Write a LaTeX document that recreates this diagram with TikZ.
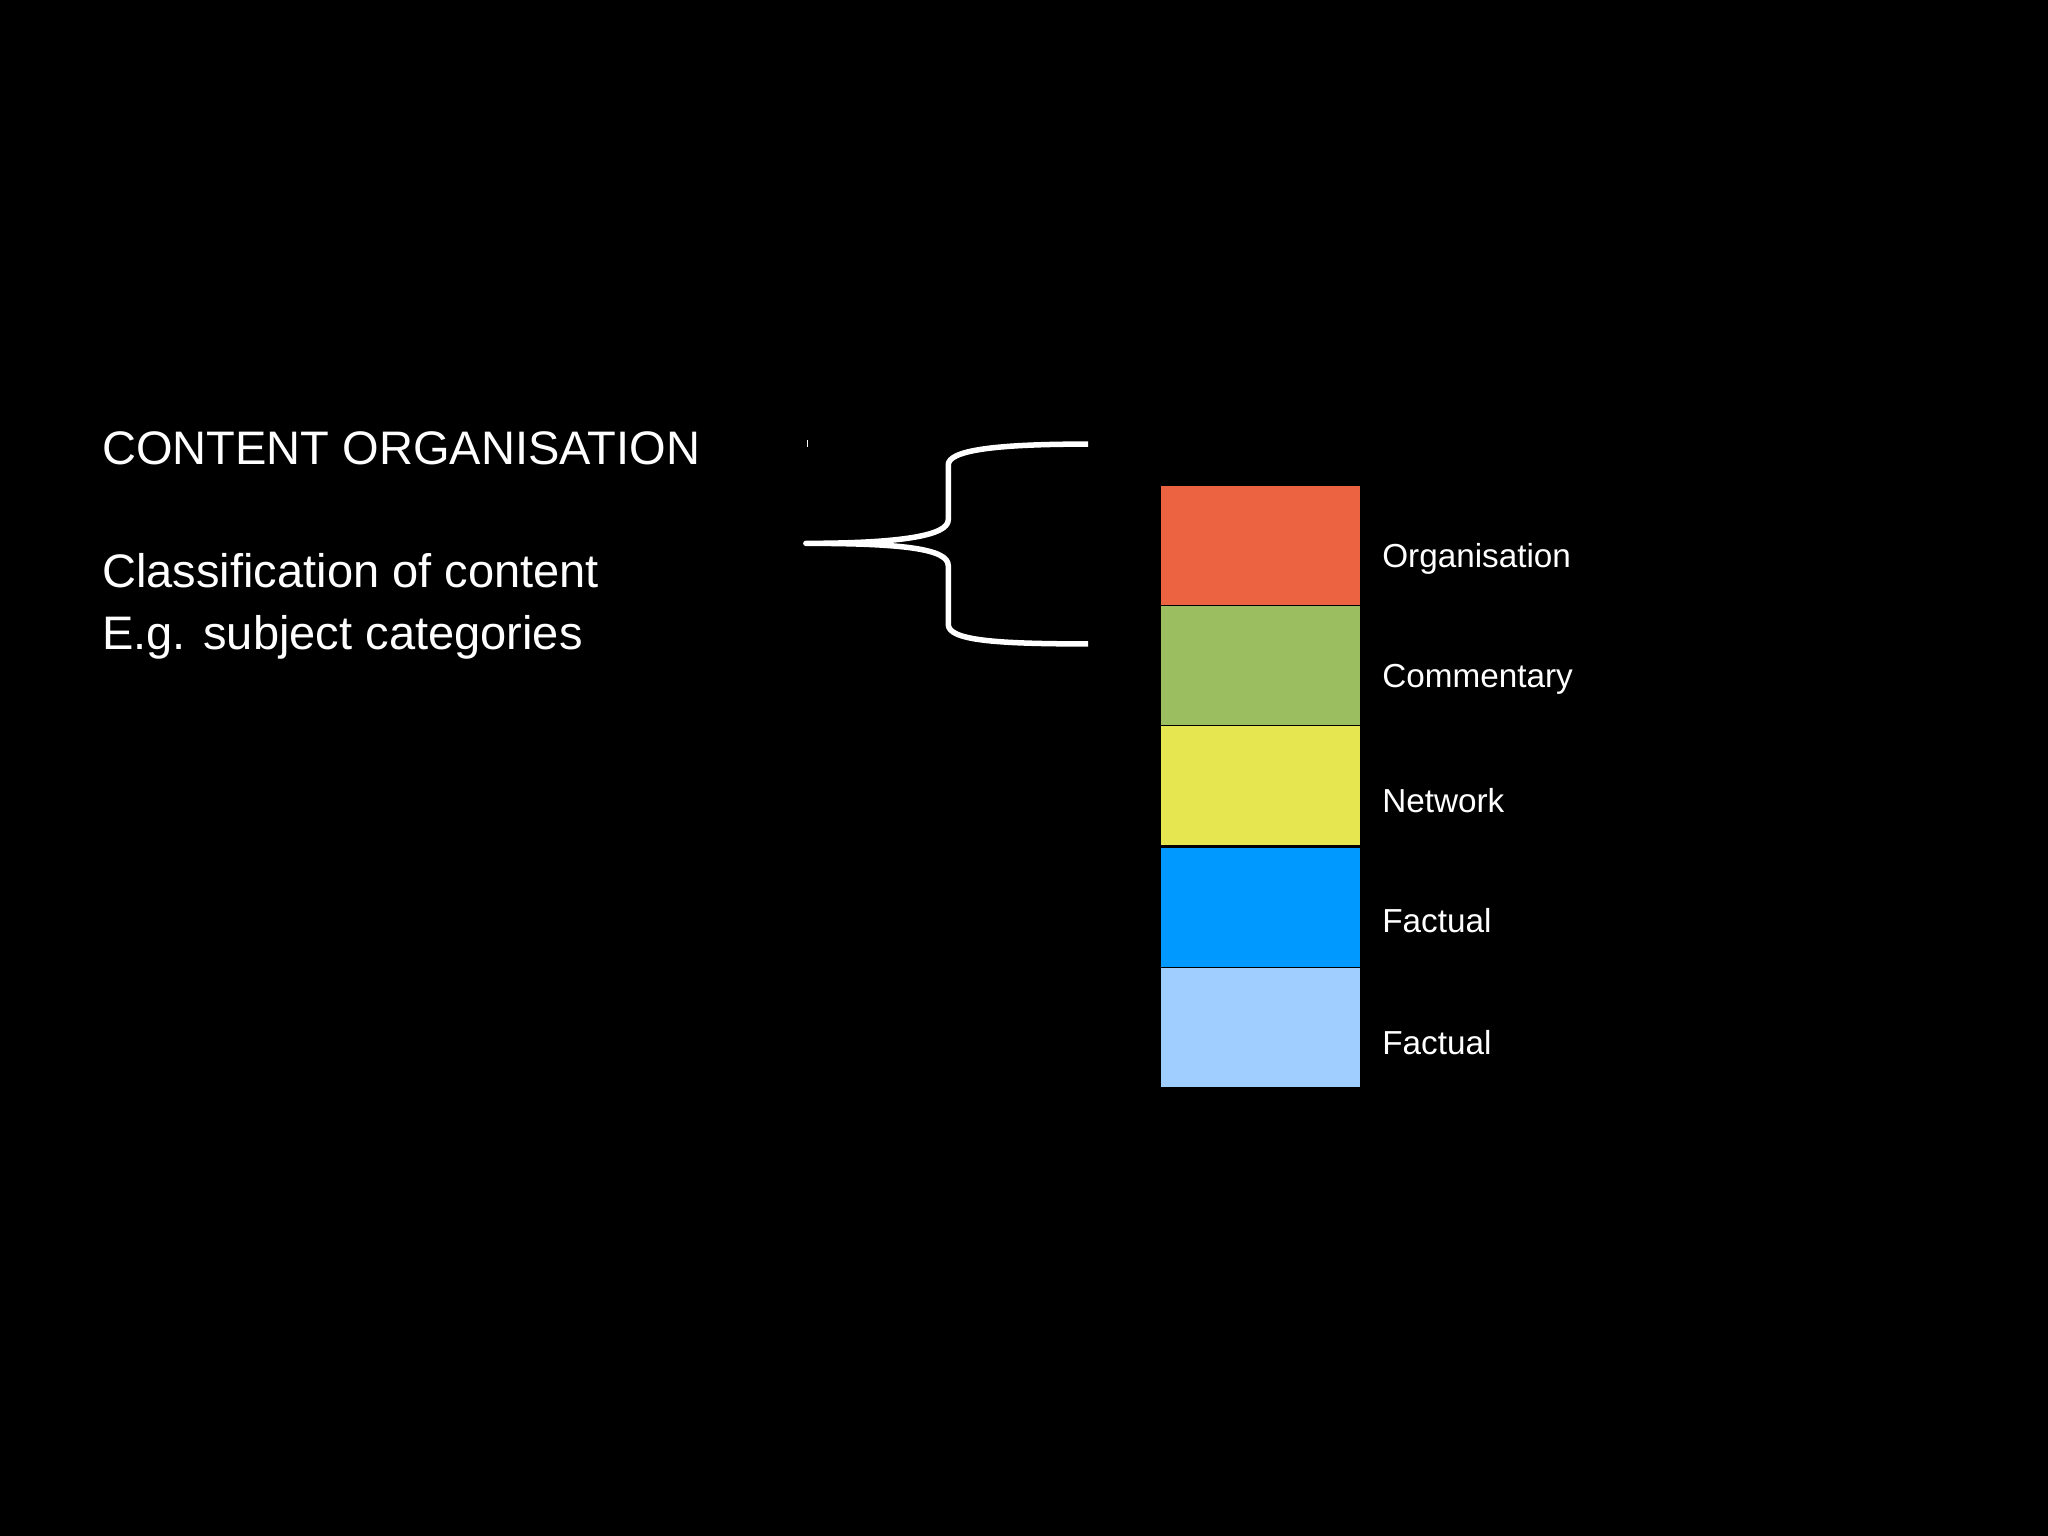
\documentclass[tikz,border=0pt]{standalone}
\usepackage{fontspec}
\setmainfont{Liberation Sans}
\definecolor{cOrg}{HTML}{EB6340}
\definecolor{cCom}{HTML}{9BBF60}
\definecolor{cNet}{HTML}{E6E650}
\definecolor{cFa}{HTML}{0099FF}
\definecolor{cFb}{HTML}{A0CFFF}
\begin{document}
\begin{tikzpicture}[x=0.02cm,y=-0.02cm,
  band/.style={draw=black,line width=0.6pt,minimum width=3.06cm,minimum height=1.84cm,inner sep=0,anchor=north west},
  lab/.style={text=white,anchor=west,font=\fontsize{14.5pt}{17pt}\selectfont,inner sep=0},
  big/.style={text=white,anchor=base west,font=\fontsize{20.5pt}{24pt}\selectfont,inner sep=0}]
\fill[black] (0,0) rectangle (1568,1176);
\useasboundingbox (0,0) rectangle (1568,1176);
\node[big] (title) at (78,356) {CONTENT ORGANISATION};
\node[big] (l1) at (78,450) {Classification of content};
\node[big] (l2) at (78,497) {E.g. subject categories};
\node[band,fill=cOrg] (b1) at (888,371) {};
\node[band,fill=cCom] (b2) at (888,463) {};
\node[band,fill=cNet] (b3) at (888,555) {};
\node[band,fill=cFa] (b4) at (888,648) {};
\node[band,fill=cFb] (b5) at (888,740) {};
\node[lab] at (1058,428) {Organisation};
\node[lab] at (1058,520) {Commentary};
\node[lab] at (1058,613) {Network};
\node[lab] at (1058,705) {Factual};
\node[lab] at (1058,798) {Factual};
\coordinate (tip) at (617,416);
\coordinate (top) at (833,340);
\coordinate (bot) at (833,493);
\draw[white,line width=2.4pt,line join=round]
  (top) .. controls (760,340) and (726,345) .. (726,356) -- (726,398)
  .. controls (726,410) and (690,416) .. (tip)
  .. controls (690,416) and (726,420) .. (726,433) -- (726,478)
  .. controls (726,490) and (760,493) .. (bot);
\draw[white,line width=0.6pt] (618,337) -- (618,342);
\end{tikzpicture}
\end{document}
